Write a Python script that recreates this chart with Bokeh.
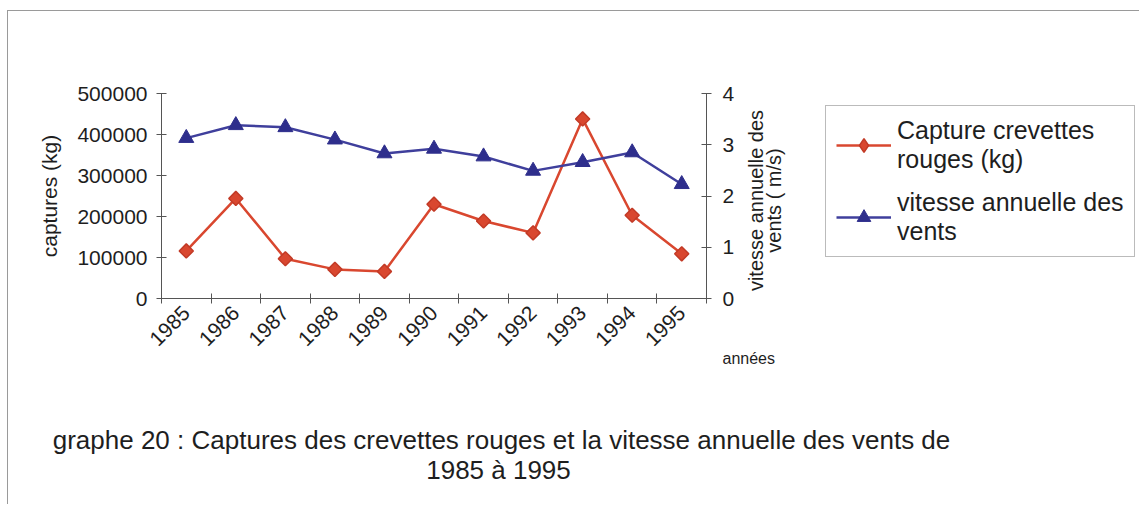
import math
from bokeh.plotting import figure
from bokeh.models import (Range1d, LinearAxis, FixedTicker, Legend, LegendItem,
                          NumeralTickFormatter)
from bokeh.core.properties import value
from bokeh.embed import file_html
from bokeh.resources import INLINE

# ---------------- data ----------------
years = ["1985", "1986", "1987", "1988", "1989", "1990",
         "1991", "1992", "1993", "1994", "1995"]
captures = [116000, 244000, 97000, 71000, 66000, 230000,
            189000, 160000, 438000, 203000, 109000]
vitesse = [3.13, 3.38, 3.34, 3.10, 2.83, 2.92, 2.77, 2.49, 2.66, 2.85, 2.23]
left_ticks = [0, 100000, 200000, 300000, 400000, 500000]
right_ticks = [0, 1, 2, 3, 4]
left_title = "captures (kg)"
right_title = ["vitesse annuelle des", "vents ( m/s)"]
x_title = "années"
caption = ["graphe 20 : Captures des crevettes rouges et la vitesse annuelle des vents de",
           "1985 à 1995"]
legend_labels = ["Capture crevettes\nrouges (kg)", "vitesse annuelle des\nvents"]

# ---------------- layout (page pixels) ----------------
ORX, ORY = 8, 11            # canvas origin on the page
FIG_W, FIG_H = 1132, 494
AX_L, AX_R, AX_T, AX_B = 161, 706, 93, 298   # axes box on the page

n = len(years)
xc = [i + 0.5 for i in range(n)]

sx = (AX_R - AX_L) / n
x_start = -(AX_L - ORX) / sx
x_end = x_start + FIG_W / sx

cap_max = left_ticks[-1]
sy = (AX_B - AX_T) / cap_max
y_end = cap_max + (AX_T - ORY) / sy
y_start = y_end - FIG_H / sy

v_max = right_ticks[-1]
sv = (AX_B - AX_T) / v_max
v_end = v_max + (AX_T - ORY) / sv
v_start = v_end - FIG_H / sv

RED = "#D9472F"
RED_DARK = "#C23A26"
BLUE = "#3F3F9C"
BLUE_DARK = "#2E2E8C"
AX = "#555555"
TXT = "#1e1e1e"
FONT = "Liberation Sans"

p = figure(width=FIG_W, height=FIG_H,
           x_range=Range1d(x_start, x_end), y_range=Range1d(y_start, y_end),
           output_backend="svg", toolbar_location=None,
           min_border=0, min_border_left=0, min_border_right=0,
           min_border_top=0, min_border_bottom=0,
           styles={"margin-left": "7px", "margin-top": "10px",
                   "border-top": "1px solid #9a9a9a",
                   "border-left": "1px solid #9a9a9a"})
p.grid.visible = False
p.outline_line_color = None
p.background_fill_color = "white"
p.border_fill_color = "white"

p.extra_y_ranges = {"v": Range1d(v_start, v_end),
                    "py": Range1d(ORY + FIG_H, ORY)}
p.extra_x_ranges = {"px": Range1d(ORX, ORX + FIG_W)}

# x axis (fixed at y = 0)
xa = p.xaxis[0]
xa.fixed_location = 0
xa.bounds = (0, n)
xa.ticker = FixedTicker(ticks=xc, minor_ticks=list(range(n + 1)))
xa.major_label_overrides = {x: y for x, y in zip(xc, years)}
xa.major_label_orientation = math.pi / 4
xa.major_tick_line_color = None
xa.major_tick_out = 0
xa.major_tick_in = 0
xa.minor_tick_line_color = AX
xa.minor_tick_in = 5
xa.minor_tick_out = 5
xa.axis_line_color = AX
xa.major_label_standoff = 6
xa.major_label_text_font = FONT
xa.major_label_text_font_size = "21px"
xa.major_label_text_color = TXT

# left axis (fixed at x = 0)
ya = p.yaxis[0]
ya.fixed_location = 0
ya.bounds = (0, cap_max)
ya.ticker = FixedTicker(ticks=left_ticks)
ya.formatter = NumeralTickFormatter(format="0")
ya.axis_label = left_title
ya.axis_label_text_font = FONT
ya.axis_label_text_font_size = "21px"
ya.axis_label_text_font_style = "normal"
ya.axis_label_text_color = TXT
ya.axis_label_standoff = 13
ya.major_label_text_font = FONT
ya.major_label_text_font_size = "21px"
ya.major_label_text_color = TXT
ya.major_label_standoff = 9
ya.major_tick_in = 5
ya.major_tick_out = 5
ya.major_tick_line_color = AX
ya.minor_tick_line_color = None
ya.axis_line_color = AX

# right axis (fixed at x = n)
ra = LinearAxis(y_range_name="v", ticker=FixedTicker(ticks=right_ticks),
                fixed_location=n, bounds=(0, v_max))
ra.major_label_text_font = FONT
ra.major_label_text_font_size = "21px"
ra.major_label_text_color = TXT
ra.major_label_standoff = 11
ra.major_tick_in = 5
ra.major_tick_out = 5
ra.major_tick_line_color = AX
ra.minor_tick_line_color = None
ra.axis_line_color = AX
p.add_layout(ra, "right")

# series
r_line = p.line(xc, captures, line_color=RED, line_width=2.5)
r_pts = p.scatter(xc, captures, marker="square", angle=math.pi / 4, size=10,
                  fill_color=RED, line_color=RED_DARK, line_width=1.5)
b_line = p.line(xc, vitesse, y_range_name="v", line_color=BLUE, line_width=2.5)
b_pts = p.scatter(xc, vitesse, y_range_name="v", marker="triangle", size=15,
                  fill_color=BLUE_DARK, line_color=BLUE_DARK)
# legend-only diamond key (its single point is NaN, so nothing is drawn in the plot)
r_key = p.scatter(x=[float("nan")], y=[float("nan")], marker="diamond", size=16,
                  fill_color=RED, line_color=RED_DARK, line_width=1.5)

legend = Legend(items=[
    LegendItem(label=legend_labels[0], renderers=[r_line, r_key]),
    LegendItem(label=legend_labels[1], renderers=[b_line, b_pts]),
], location=(825 - ORX, ORY + FIG_H - 257))
legend.label_text_font = FONT
legend.label_text_font_size = "25px"
legend.label_text_color = TXT
legend.label_text_line_height = 1.1
legend.glyph_width = 55
legend.glyph_height = 34
legend.label_standoff = 6
legend.spacing = 14
legend.padding = 10
legend.margin = 0
legend.border_line_color = "#777777"
legend.border_line_width = 1
legend.background_fill_color = "white"
p.add_layout(legend, "center")

# texts positioned in page pixels
txt = dict(x_range_name="px", y_range_name="py", text_font=value(FONT),
           text_color=TXT, text_baseline="middle")
p.text(x=[755, 773], y=[200, 200], text=right_title, angle=math.pi / 2,
       text_align="center", text_font_size="20px", **txt)
p.text(x=[722], y=[358], text=[x_title], text_align="left",
       text_font_size="16px", **txt)
p.text(x=[501, 498], y=[439, 469], text=caption, text_align="center",
       text_font_size="26px", **txt)

open("out.html", "w").write(file_html(p, INLINE))
